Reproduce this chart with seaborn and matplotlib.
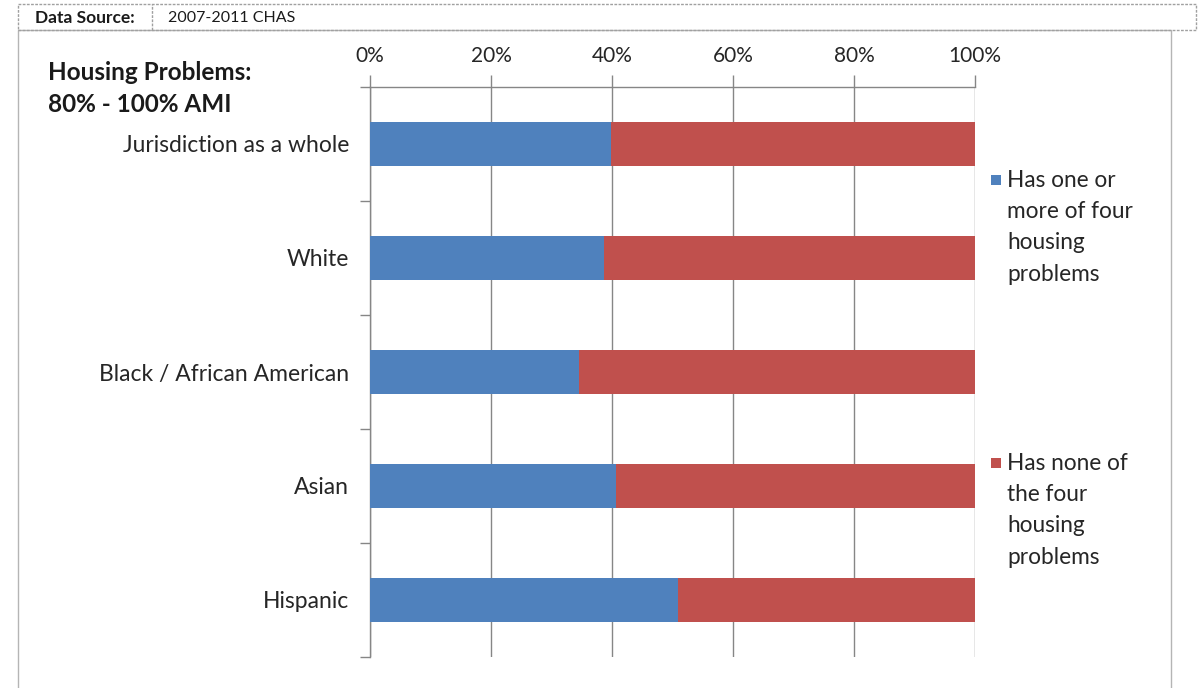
import matplotlib
matplotlib.use("Agg")
import matplotlib.pyplot as plt
import matplotlib.patches as mpatches
from matplotlib.ticker import PercentFormatter, FixedLocator
import seaborn as sns
import pandas as pd

categories = ["Jurisdiction as a whole", "White", "Black / African American", "Asian", "Hispanic"]
has_problems = [39.8, 38.6, 34.6, 40.7, 50.9]
no_problems = [60.2, 61.4, 65.4, 59.3, 49.1]
series_labels = ["Has one or\nmore of four\nhousing\nproblems", "Has none of\nthe four\nhousing\nproblems"]
x_ticks = [0, 20, 40, 60, 80, 100]

BLUE = "#4F81BD"
RED = "#C0504D"
GRID = "#868686"
TXT = "#262626"
FONT = ["Lato", "DejaVu Sans"]

sns.set_theme(style="white")
plt.rcParams["font.family"] = FONT

df = pd.DataFrame({"cat": categories,
                   "blue": has_problems,
                   "total": [a + b for a, b in zip(has_problems, no_problems)]})

W, H = 1198, 688
fig = plt.figure(figsize=(W / 100, H / 100), dpi=100)
ax = fig.add_axes([370 / W, 1 - 657 / H, 605 / W, (657 - 87) / H])

sns.barplot(data=df, y="cat", x="total", order=categories, color=RED,
            width=0.38, saturation=1, ax=ax, zorder=3, linewidth=0, edgecolor="none")
sns.barplot(data=df, y="cat", x="blue", order=categories, color=BLUE,
            width=0.38, saturation=1, ax=ax, zorder=3, linewidth=0, edgecolor="none")

ax.set_xlim(0, 100)
ax.set_ylim(4.5, -0.5)
ax.set_xlabel("")
ax.set_ylabel("")

ax.xaxis.tick_top()
ax.set_xticks(x_ticks)
ax.xaxis.set_major_formatter(PercentFormatter(decimals=0))
ax.tick_params(axis="x", which="major", direction="out", length=9, width=1,
               color=GRID, labelsize=15, pad=6, labelcolor=TXT)
ax.grid(axis="x", color=GRID, linewidth=1, zorder=0)
ax.grid(axis="y", visible=False)

ax.yaxis.set_major_locator(FixedLocator(range(len(categories))))
ax.set_yticklabels(categories)
ax.yaxis.set_minor_locator(FixedLocator([-0.5, 0.5, 1.5, 2.5, 3.5, 4.5]))
ax.tick_params(axis="y", which="major", length=0, labelsize=16.5, pad=15,
               labelcolor=TXT)
ax.tick_params(axis="y", which="minor", direction="out", length=7, width=1,
               color=GRID, left=True)

for side in ["right", "bottom"]:
    ax.spines[side].set_visible(False)
for side in ["left", "top"]:
    ax.spines[side].set_color(GRID)
    ax.spines[side].set_linewidth(1)
ax.set_axisbelow(True)

# Title
fig.text(48 / W, 1 - 72 / H, "Housing Problems:", fontsize=17.5, fontweight="bold",
         color="#1a1a1a", va="center", ha="left")
fig.text(48 / W, 1 - 104 / H, "80% - 100% AMI", fontsize=17.5, fontweight="bold",
         color="#1a1a1a", va="center", ha="left")

# Legend entries (square marker + wrapped label)
for lab, col, yfirst in zip(series_labels, [BLUE, RED], [180, 463]):
    sq = mpatches.Rectangle((991 / W, 1 - (yfirst + 5) / H), 10 / W, 10 / H,
                            transform=fig.transFigure, facecolor=col, edgecolor="none")
    fig.patches.append(sq)
    fig.text(1007 / W, 1 - (yfirst - 10) / H, lab, fontsize=16.3, color=TXT,
             va="top", ha="left", linespacing=1.6)

# Outer frame and header
frame = mpatches.Rectangle((18 / W, -0.01), (1171 - 18) / W, (688 - 30) / H + 0.01,
                           transform=fig.transFigure, fill=False, edgecolor="#b5b5b5",
                           linewidth=1)
fig.patches.append(frame)
hdr = mpatches.Rectangle((18 / W, 1 - 30 / H), (1196 - 18) / W, 26 / H,
                         transform=fig.transFigure, fill=False, edgecolor="#a0a0a0",
                         linewidth=1, linestyle=(0, (2, 1)))
fig.patches.append(hdr)
fig.add_artist(plt.Line2D([152 / W, 152 / W], [1 - 30 / H, 1 - 4 / H],
                          transform=fig.transFigure, color="#a0a0a0", linewidth=1,
                          linestyle=(0, (2, 1))))
fig.text(35 / W, 1 - 18 / H, "Data Source:", fontsize=12.5, fontweight="bold",
         color="#1a1a1a", va="center", ha="left")
fig.text(168 / W, 1 - 18 / H, "2007-2011 CHAS", fontsize=11.5,
         color="#1a1a1a", va="center", ha="left")

fig.savefig("out.png", dpi=100)
